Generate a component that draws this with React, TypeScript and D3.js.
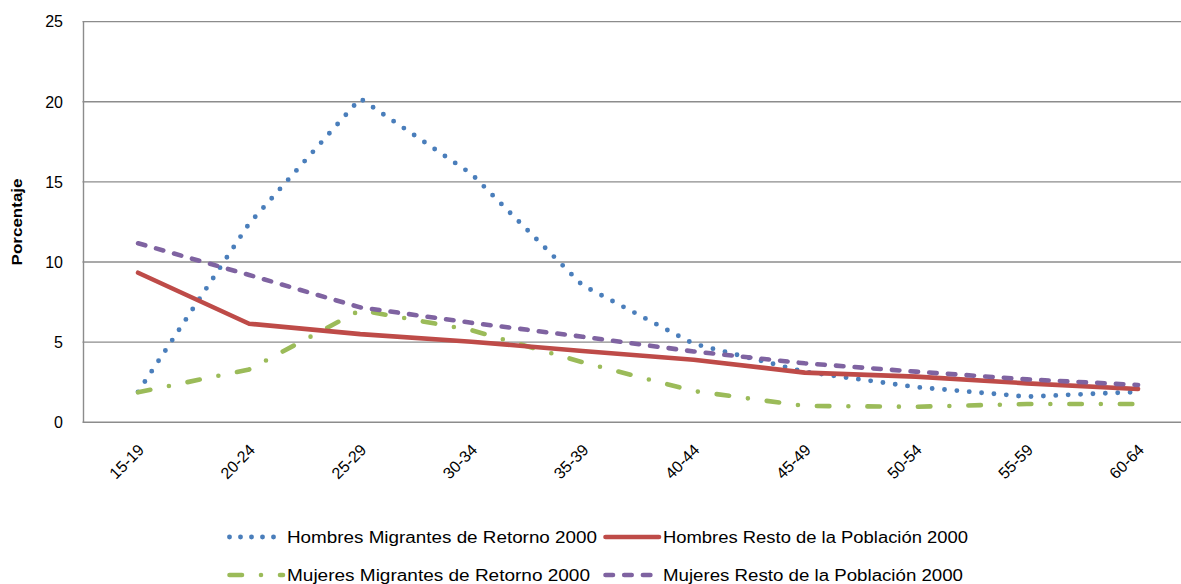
import React from "react";
import * as d3 from "d3";

// Age groups on the category axis
const categories = ["15-19", "20-24", "25-29", "30-34", "35-39", "40-44", "45-49", "50-54", "55-59", "60-64"];

// Percentage of each population by age group
const hombresMigrantes = [1.9, 12.4, 20.2, 15.5, 8.55, 4.9, 3.15, 2.2, 1.6, 1.9];
const hombresResto = [9.33, 6.15, 5.5, 5.03, 4.45, 3.9, 3.1, 2.85, 2.43, 2.08];
const mujeresMigrantes = [1.87, 3.3, 7.0, 5.75, 3.75, 1.95, 1.02, 0.97, 1.14, 1.14];
const mujeresResto = [11.17, 9.19, 7.17, 6.21, 5.34, 4.42, 3.68, 3.16, 2.68, 2.33];

const yTicks = [0, 5, 10, 15, 20, 25];

const seriesNames = [
  "Hombres Migrantes de Retorno 2000",
  "Hombres Resto de la Población 2000",
  "Mujeres Migrantes de Retorno 2000",
  "Mujeres Resto de la Población 2000",
];

type Style = { color: string; dash: string | null; cap: "round" | "butt"; width: number };

const styles: Style[] = [
  { color: "#4A7EBB", dash: "0 12.4", cap: "round", width: 4.9 },
  { color: "#BE4B48", dash: null, cap: "round", width: 4.6 },
  { color: "#9BBB59", dash: "12.5 19 0 19", cap: "round", width: 4.6 },
  { color: "#7F63A1", dash: "7.5 11.2", cap: "round", width: 4.6 },
];

const FONT = "'Liberation Sans', Arial, sans-serif";

export default function App() {
  const width = 1181;
  const height = 584;
  const left = 82.5;
  const right = 1193.6;
  const top = 21.6;
  const bottom = 422.3;

  const x = d3.scaleBand<string>().domain(categories).range([left, right]).padding(0);
  const cx = (c: string) => (x(c) as number) + x.bandwidth() / 2;
  const y = d3.scaleLinear().domain([0, 25]).range([bottom, top]);

  const all = [hombresMigrantes, hombresResto, mujeresMigrantes, mujeresResto];
  const line = d3
    .line<number>()
    .x((_, i) => cx(categories[i]))
    .y((v) => y(v));

  // Paint order of the four series
  const drawOrder = [0, 2, 1, 3];

  const legendItems = [
    { s: 0, x: 227, y: 537, tl: 310 },
    { s: 1, x: 603, y: 537, tl: 305 },
    { s: 2, x: 227, y: 575, tl: 303 },
    { s: 3, x: 603, y: 575, tl: 300 },
  ];

  return (
    <svg
      width={width}
      height={height}
      style={{ position: "absolute", left: 0, top: 0, background: "#fff" }}
      fontFamily={FONT}
    >
      {/* horizontal gridlines */}
      {yTicks.map((t) => (
        <line key={t} x1={left} x2={width} y1={y(t)} y2={y(t)} stroke="#8C8C8C" strokeWidth={1.4} />
      ))}
      {/* value axis line */}
      <line x1={83.5} x2={83.5} y1={top} y2={bottom} stroke="#8C8C8C" strokeWidth={1.4} />

      {/* y tick labels */}
      {yTicks.map((t) => (
        <text key={t} x={63} y={y(t)} dy="0.36em" textAnchor="end" fontSize={16} fill="#000">
          {t}
        </text>
      ))}
      <text
        transform={`translate(22,${(top + bottom) / 2}) rotate(-90)`}
        textAnchor="middle"
        fontSize={14}
        fontWeight="bold"
        textLength={87}
        lengthAdjust="spacingAndGlyphs"
      >
        Porcentaje
      </text>

      {/* x tick labels */}
      {categories.map((c) => (
        <text
          key={c}
          transform={`translate(${cx(c) + 7},${451}) rotate(-45)`}
          textAnchor="end"
          fontSize={16}
          fill="#000"
        >
          {c}
        </text>
      ))}

      {/* series */}
      {drawOrder.map((si) => (
        <path
          key={si}
          d={line(all[si]) || ""}
          fill="none"
          stroke={styles[si].color}
          strokeWidth={styles[si].width}
          strokeDasharray={styles[si].dash || undefined}
          strokeLinecap={styles[si].cap}
          strokeLinejoin="round"
        />
      ))}

      {/* legend */}
      {legendItems.map((it) => {
        const st = styles[it.s];
        return (
          <g key={it.s}>
            <line
              x1={it.x + 2.5}
              x2={it.x + 56}
              y1={it.y}
              y2={it.y}
              stroke={st.color}
              strokeWidth={st.width}
              strokeDasharray={it.s === 0 ? "0 11" : st.dash || undefined}
              strokeLinecap={st.cap}
            />
            <text
              x={it.x + 60}
              y={it.y}
              dy="0.36em"
              fontSize={16}
              textLength={it.tl}
              lengthAdjust="spacingAndGlyphs"
            >
              {seriesNames[it.s]}
            </text>
          </g>
        );
      })}
    </svg>
  );
}
